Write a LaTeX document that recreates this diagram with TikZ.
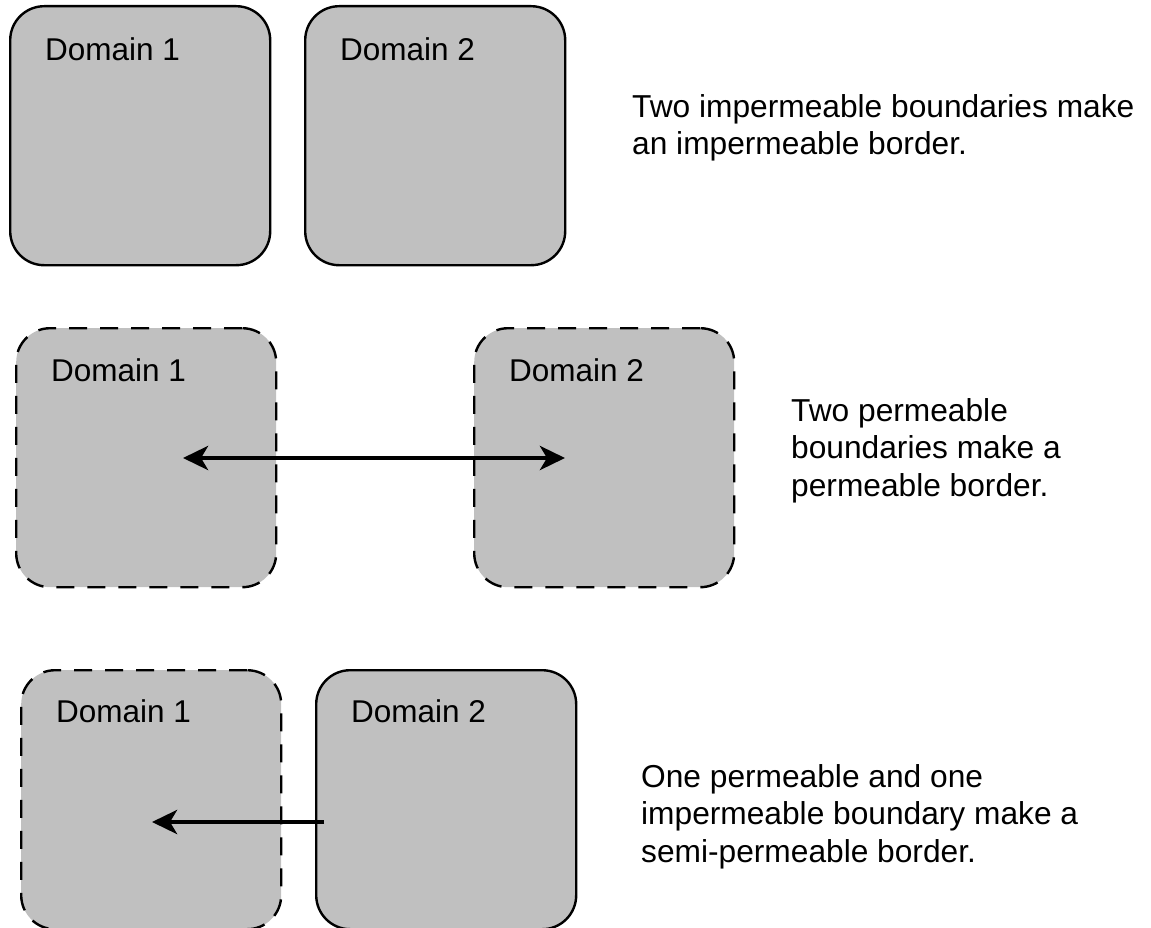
\documentclass[tikz,border=0pt]{standalone}
\usepackage{fontspec}
\setmainfont{Liberation Sans}
\usetikzlibrary{arrows.meta, positioning}
\definecolor{domaingray}{RGB}{192,192,192}
\tikzset{
  domainbox/.style = {draw, fill=domaingray, line width=2.4pt, rounded corners=34pt,
    minimum width=260pt, minimum height=259pt, inner sep=0pt, anchor=north west},
  impermeable/.style = {domainbox},
  permeable/.style = {domainbox, dash pattern=on 18pt off 13pt},
  domname/.style = {anchor=base west, inner sep=0pt, font=\fontsize{31.5}{37.5}\selectfont},
  caption/.style = {align=left, anchor=base west, inner sep=0pt, font=\fontsize{31.7}{37.5}\selectfont},
  flowtip/.tip = {Stealth[length=25pt, width=24pt, inset=7pt]},
  flow/.style = {line width=4.5pt}
}

\begin{document}
\begin{tikzpicture}[x=1pt, y=-1pt]

  \useasboundingbox (0,0) rectangle (1151,928);

  %% Impermeable border

  % Domains
  \node[impermeable] (a1) at (9,5) {};
  \node[impermeable] (a2) at (304,5) {};
  \node[domname] (a1name) at ([shift={(36pt,-56pt)}]a1.north west) {Domain 1};
  \node[domname] (a2name) at ([shift={(36pt,-56pt)}]a2.north west) {Domain 2};

  % Text (anchored at the last line)
  \node[caption] (atext) at (632,155) {Two impermeable boundaries make\\an impermeable border.};

  %% Permeable border

  % Domains
  \node[permeable] (b1) at (15,327) {};
  \node[permeable] (b2) at (473,327) {};
  \node[domname] (b1name) at ([shift={(36pt,-54pt)}]b1.north west) {Domain 1};
  \node[domname] (b2name) at ([shift={(36pt,-54pt)}]b2.north west) {Domain 2};

  % Flow
  \coordinate (bleft) at (183,458);
  \coordinate (bright) at (565,458);
  \draw[flow, flowtip-flowtip] (bleft) -- (bright);

  % Text
  \node[caption] (btext) at (791,496) {Two permeable\\boundaries make a\\permeable border.};

  %% Semi-permeable border

  % Domains
  \node[permeable] (c1) at (20,669) {};
  \node[impermeable] (c2) at (315,669) {};
  \node[domname] (c1name) at ([shift={(36pt,-53pt)}]c1.north west) {Domain 1};
  \node[domname] (c2name) at ([shift={(36pt,-53pt)}]c2.north west) {Domain 2};

  % Flow
  \coordinate (cstart) at (324,822);
  \coordinate (cend) at (152,822);
  \draw[flow, -flowtip] (cstart) -- (cend);

  % Text
  \node[caption] (ctext) at (641,862) {One permeable and one\\impermeable boundary make a\\semi-permeable border.};

\end{tikzpicture}
\end{document}
